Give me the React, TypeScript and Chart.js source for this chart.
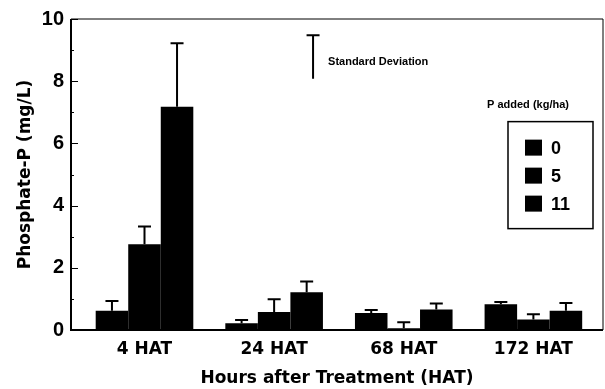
import React, { useEffect, useRef } from "react";
import { Chart, registerables } from "chart.js";

Chart.register(...registerables);

const categories = ["4 HAT", "24 HAT", "68 HAT", "172 HAT"];
const seriesLabels = ["0", "5", "11"];
const p0 = [0.62, 0.22, 0.55, 0.83];
const p0SD = [0.31, 0.1, 0.09, 0.07];
const p5 = [2.76, 0.58, 0.06, 0.34];
const p5SD = [0.57, 0.41, 0.19, 0.17];
const p11 = [7.18, 1.21, 0.66, 0.62];
const p11SD = [2.04, 0.35, 0.19, 0.25];
const yTicks = [0, 2, 4, 6, 8, 10];

const values = [p0, p5, p11];
const sds = [p0SD, p5SD, p11SD];

const FONT = "'Liberation Sans', Arial, Helvetica, sans-serif";
const WIDE = "'DejaVu Sans', 'Liberation Sans', sans-serif";

const decor = {
  id: "decor",
  afterDatasetsDraw(chart: any) {
    const { ctx, scales } = chart;
    const y = scales.y;
    ctx.save();
    ctx.strokeStyle = "#000";
    ctx.lineWidth = 2;
    chart.data.datasets.forEach((_ds: any, i: number) => {
      const meta = chart.getDatasetMeta(i);
      meta.data.forEach((bar: any, j: number) => {
        const top = y.getPixelForValue(values[i][j] + sds[i][j]);
        ctx.beginPath();
        ctx.moveTo(bar.x, bar.y);
        ctx.lineTo(bar.x, top);
        ctx.moveTo(bar.x - 6.5, top);
        ctx.lineTo(bar.x + 6.5, top);
        ctx.stroke();
      });
    });
    ctx.restore();
  },
  afterDraw(chart: any) {
    const { ctx, chartArea: a, scales } = chart;
    const y = scales.y;
    ctx.save();
    ctx.strokeStyle = "#000";
    // frame
    ctx.lineWidth = 1;
    ctx.beginPath();
    ctx.moveTo(a.left, a.top);
    ctx.lineTo(a.right, a.top);
    ctx.lineTo(a.right, a.bottom);
    ctx.stroke();
    ctx.lineWidth = 2;
    ctx.beginPath();
    ctx.moveTo(a.left, a.top);
    ctx.lineTo(a.left, a.bottom);
    ctx.lineTo(a.right, a.bottom);
    ctx.stroke();
    // inner ticks
    ctx.lineWidth = 1;
    for (let v = 0; v <= 10; v++) {
      const py = Math.round(y.getPixelForValue(v)) + 0.5;
      const len = v % 2 === 0 ? 7 : 3;
      ctx.beginPath();
      ctx.moveTo(a.left, py);
      ctx.lineTo(a.left + len, py);
      ctx.stroke();
    }
    // standard deviation key
    const sx = a.left + a.width * 0.455;
    const sTop = y.getPixelForValue(9.48);
    const sBot = y.getPixelForValue(8.08);
    ctx.lineWidth = 2;
    ctx.beginPath();
    ctx.moveTo(sx, sTop);
    ctx.lineTo(sx, sBot);
    ctx.moveTo(sx - 6.5, sTop);
    ctx.lineTo(sx + 6.5, sTop);
    ctx.stroke();
    ctx.fillStyle = "#000";
    ctx.font = `bold 11px ${FONT}`;
    ctx.textAlign = "left";
    ctx.textBaseline = "middle";
    ctx.fillText("Standard Deviation", sx + 15, y.getPixelForValue(8.61));
    // legend
    const lx = a.right - 95;
    const ly = y.getPixelForValue(6.7);
    const lw = 85;
    const lh = 107;
    ctx.textAlign = "center";
    ctx.fillText("P added (kg/ha)", lx + 20, y.getPixelForValue(7.24));
    ctx.lineWidth = 1.5;
    ctx.strokeRect(lx, ly, lw, lh);
    ctx.font = `bold 18px ${FONT}`;
    ctx.textAlign = "left";
    seriesLabels.forEach((lab, i) => {
      const cy = ly + 26 + i * 28;
      ctx.fillStyle = "#000";
      ctx.fillRect(lx + 17, cy - 8, 17, 16);
      ctx.fillText(lab, lx + 43, cy + 1);
    });
    ctx.restore();
  },
};

export default function App() {
  const ref = useRef<HTMLCanvasElement | null>(null);
  useEffect(() => {
    if (!ref.current) return;
    const chart = new Chart(ref.current, {
      type: "bar",
      data: {
        datasets: values.map((vals, i) => ({
          label: seriesLabels[i],
          data: vals.map((v, j) => ({ x: j, y: v })),
          backgroundColor: "#000",
          borderWidth: 0,
          barPercentage: 1,
          categoryPercentage: 0.753,
        })),
      },
      options: {
        animation: false,
        responsive: false,
        events: [],
        layout: { padding: { top: 17, right: 2, left: 0, bottom: 0 } },
        plugins: { legend: { display: false }, tooltip: { enabled: false } },
        scales: {
          x: {
            type: "linear",
            offset: false,
            min: -0.567,
            max: 3.537,
            grid: { display: false, drawTicks: false },
            border: { display: false },
            afterBuildTicks: (scale: any) => {
              scale.ticks = [0, 1, 2, 3].map((v) => ({ value: v }));
            },
            afterFit: (scale: any) => {
              scale.height = 59;
            },
            ticks: {
              color: "#000",
              padding: 9,
              maxRotation: 0,
              autoSkip: false,
              font: { family: WIDE, size: 17, weight: "bold" },
              callback: (v: any) => categories[v as number] ?? "",
            },
            title: {
              display: true,
              text: "Hours after Treatment (HAT)",
              color: "#000",
              padding: { top: 0, bottom: 0 },
              font: { family: WIDE, size: 17, weight: "bold" },
            },
          },
          y: {
            min: 0,
            max: 10,
            grid: { display: false, drawTicks: false },
            border: { display: false },
            afterBuildTicks: (scale: any) => {
              scale.ticks = yTicks.map((v) => ({ value: v }));
            },
            afterFit: (scale: any) => {
              scale.width = 71;
            },
            ticks: {
              color: "#000",
              padding: 7,
              font: { family: FONT, size: 20, weight: "bold" },
            },
            title: {
              display: true,
              text: "Phosphate-P (mg/L)",
              color: "#000",
              padding: { top: 15, bottom: 0 },
              font: { family: WIDE, size: 17, weight: "bold" },
            },
          },
        },
      },
      plugins: [decor],
    } as any);
    return () => chart.destroy();
  }, []);
  return (
    <div style={{ position: "absolute", left: 0, top: 0, width: 605, height: 389, background: "#fff" }}>
      <canvas ref={ref} width={605} height={389} style={{ display: "block" }} />
    </div>
  );
}
